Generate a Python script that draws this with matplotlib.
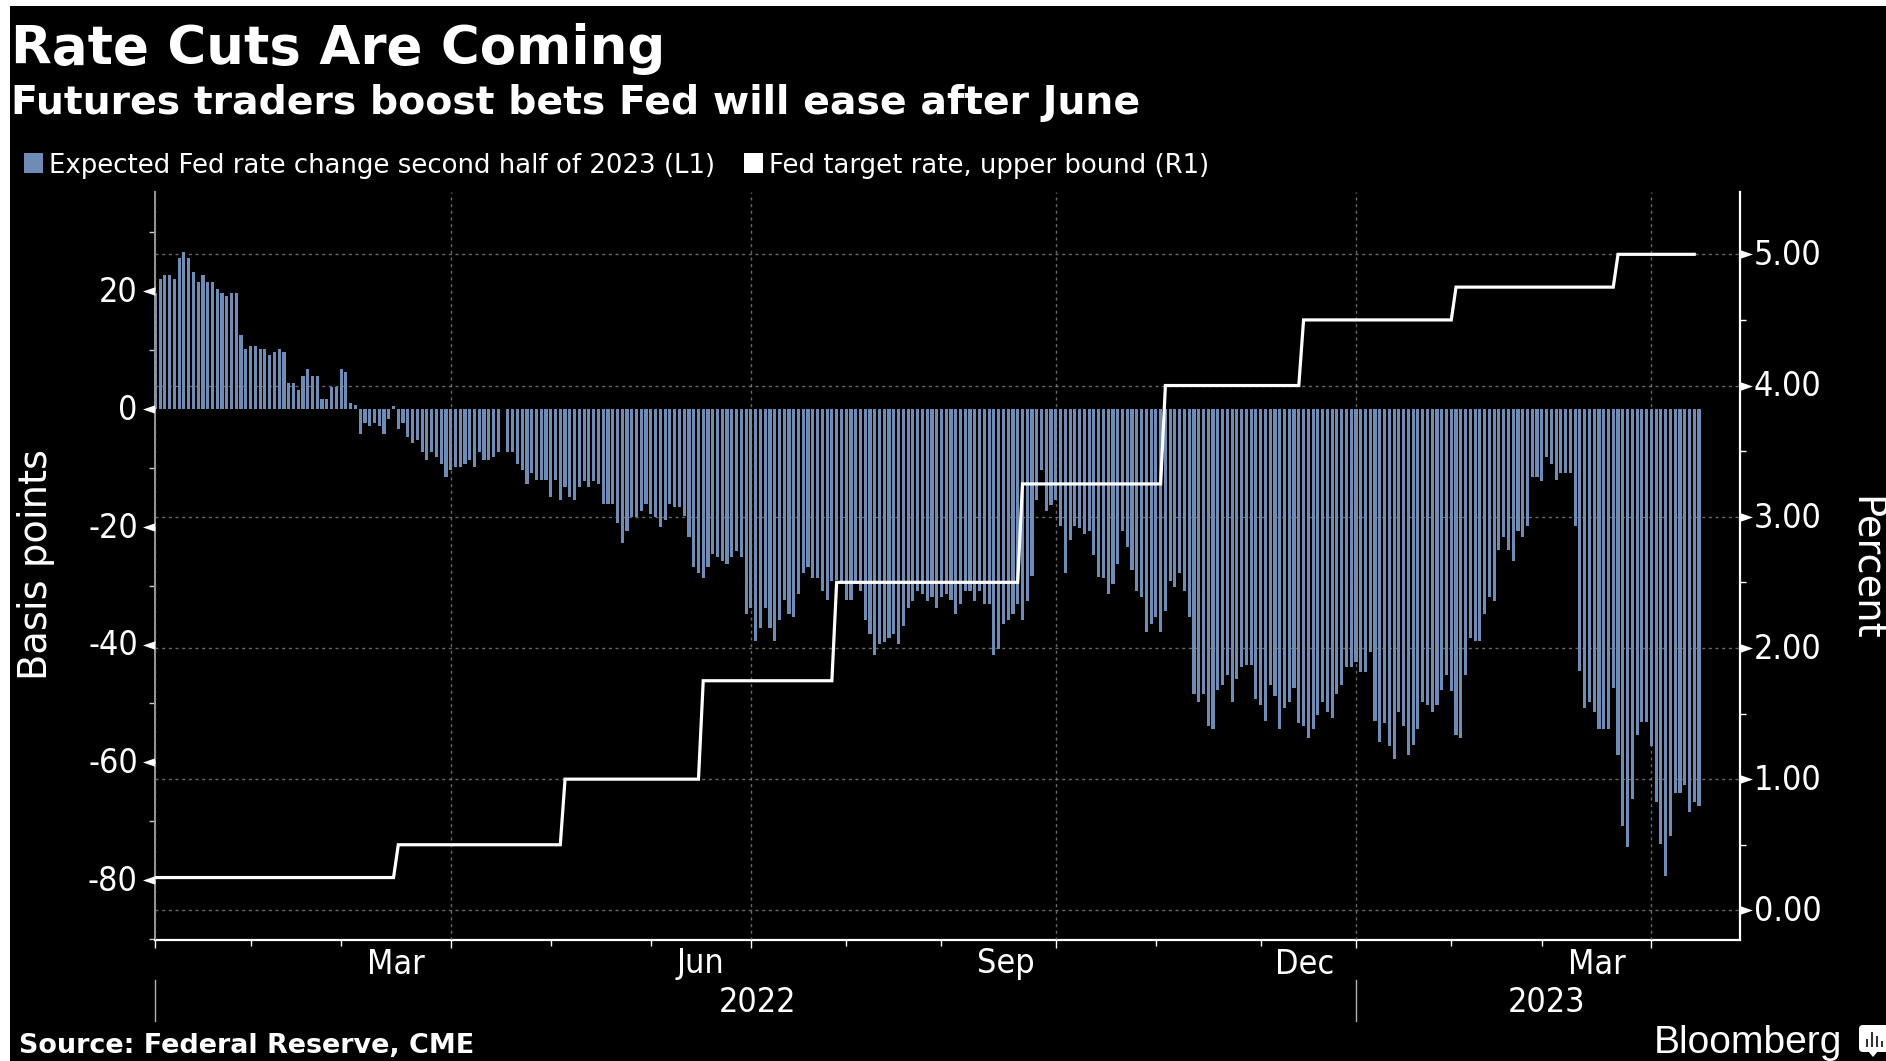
import numpy as np
import matplotlib
matplotlib.use("Agg")
import matplotlib.pyplot as plt
from matplotlib.patches import Rectangle, FancyBboxPatch, Polygon
from matplotlib.transforms import ScaledTranslation

nan = float("nan")
expected_change_bp = [
 19.7,22.1,22.7,22.7,22.1,25.6,26.7,25.6,23.2,21.6,22.7,21.6,21.6,20.3,19.7,19.2,19.7,19.7,12.6,10.1,
 10.7,10.7,10.1,10.1,9.1,9.6,10.1,9.6,4.3,4.3,3.2,5.6,6.7,5.6,5.6,1.6,1.6,3.7,3.7,6.7,
 6.2,1.0,0.6,-4.2,-2.4,-2.9,-2.4,-2.9,-4.2,-1.8,0.5,-3.4,-2.4,-4.8,-5.8,-5.3,-7.4,-8.7,-7.4,-8.2,
 -9.3,-11.5,-10.4,-9.9,-9.9,-9.3,-8.7,-9.9,-7.4,-8.7,-8.7,-8.2,-7.4,nan,-7.4,-7.4,-9.3,-10.4,-12.8,-10.9,
 -12.0,-12.0,-12.0,-14.9,-12.0,-15.4,-13.3,-14.9,-15.4,-13.3,-12.2,-13.3,-12.2,-12.8,-16.2,-16.2,-16.2,-19.4,-22.8,-20.7,
 -18.4,-18.4,-17.3,-16.2,-17.8,-18.4,-20.0,-18.9,-16.2,-16.7,-16.7,-18.2,-21.8,-26.9,-27.9,-28.7,-26.9,-24.7,-25.2,-25.8,
 -26.3,-25.2,-24.2,-25.2,-34.8,-33.8,-39.4,-37.2,-33.8,-37.2,-39.4,-35.9,-32.5,-34.8,-35.3,-31.4,-27.9,-26.9,-28.7,-28.7,
 -30.9,-32.5,-29.2,-29.0,-29.3,-32.5,-32.5,-29.8,-30.9,-35.9,-38.3,-41.8,-39.9,-39.6,-38.9,-38.3,-39.9,-36.8,-33.8,-32.7,
 -30.9,-31.4,-32.7,-31.9,-33.8,-31.9,-31.4,-32.4,-34.8,-33.2,-30.9,-30.9,-32.7,-30.9,-33.2,-33.2,-41.8,-40.7,-36.5,-35.9,
 -34.8,-33.2,-35.9,-32.7,-28.4,-15.4,-10.4,-17.3,-16.3,-15.4,-19.9,-27.9,-22.3,-19.9,-20.2,-21.2,-20.7,-24.8,-28.5,-28.7,
 -31.4,-29.8,-26.3,-20.7,-23.5,-27.4,-30.9,-31.9,-37.8,-36.5,-35.4,-37.8,-34.3,-29.2,-30.3,-27.9,-30.9,-35.4,-48.4,-49.8,
 -48.4,-53.8,-54.3,-47.8,-46.8,-45.2,-49.8,-45.8,-43.9,-43.4,-43.4,-49.3,-50.3,-53.0,-46.8,-48.7,-54.3,-50.8,-49.8,-47.4,
 -53.3,-53.8,-55.9,-54.3,-51.9,-49.8,-51.4,-52.5,-48.4,-46.8,-43.9,-43.9,-42.9,-44.7,-44.7,-41.3,-53.0,-56.5,-53.3,-57.2,
 -59.4,-51.4,-53.8,-58.8,-57.0,-54.3,-49.8,-50.3,-51.4,-50.3,-47.8,-45.2,-47.9,-55.4,-55.9,-45.2,-38.9,-39.4,-39.4,-34.8,
 -31.9,-32.7,-24.0,-21.8,-24.0,-25.8,-20.7,-21.8,-19.9,-11.5,-11.5,-12.2,-8.2,-9.3,-12.0,-10.9,-10.9,-10.9,-19.9,-44.5,
 -50.8,-49.8,-51.4,-54.3,-54.3,-54.3,-47.4,-58.8,-70.8,-74.3,-66.3,-55.4,-53.2,-53.2,-57.2,-66.8,-73.8,-79.3,-72.5,-65.2,
 -65.2,-63.9,-68.4,-66.8,-67.4]
fed_levels = [0.25, 0.50, 1.00, 1.75, 2.50, 3.25, 4.00, 4.50, 4.75, 5.00]
fed_change_slots = [51, 86, 115, 143, 182, 212, 241, 273, 307]
fed_last_slot = 323
quarter_slots = [0, 62, 125, 189, 252, 314]
month_slots = [20, 39, 83, 104, 145, 165, 210, 232, 272, 291]
quarter_labels = ["Mar", "Jun", "Sep", "Dec", "Mar"]
quarter_label_slots = [50.5, 114.5, 178.5, 241.2, 302.5]
year_labels = ["2022", "2023"]
year_label_slots = [126.3, 292]
year_sep_slots = [0, 252]
left_major = [20, 0, -20, -40, -60, -80]
left_minor = [30, 10, -10, -30, -50, -70, -90]
right_major = [0, 1, 2, 3, 4, 5]
right_minor = [0.5, 1.5, 2.5, 3.5, 4.5]

W, H = 1886, 1061
BLUE = "#6e8cb6"
GRID = "#8a8a8a"
plt.rcParams["font.family"] = "DejaVu Sans"

fig = plt.figure(figsize=(W / 100, H / 100), dpi=100, facecolor="white")
fig.add_artist(Rectangle((10 / W, 0), 1, 1 - 6 / H, transform=fig.transFigure,
                         facecolor="black", edgecolor="none", zorder=-10))

def fx(p): return p / W
def fy(p): return 1 - p / H
def pt(px): return px * 0.72

L, R, T, B = 154.5, 1740, 192, 940
ax = fig.add_axes([fx(L), fy(B), (R - L) / W, (B - T) / H])
ax.set_facecolor("black")
ax.patch.set_alpha(0)
slots = np.arange(len(expected_change_bp))
ax.bar(slots, expected_change_bp, width=0.66, color=BLUE, linewidth=0, zorder=2)
ax.set_xlim(-0.17, 332.6)
ax.set_ylim(-90.15, 36.8)

ax2 = ax.twinx()
ax2.set_ylim(-0.226, 5.475)
ax2.patch.set_alpha(0)

# step line of the target rate
xs, ys = [0], [fed_levels[0]]
for s, a, b in zip(fed_change_slots, fed_levels[:-1], fed_levels[1:]):
    xs += [s - 1, s]
    ys += [a, b]
xs.append(fed_last_slot)
ys.append(fed_levels[-1])
ax2.plot(xs, ys, color="white", lw=2.3, zorder=5, solid_joinstyle="miter")

dash = (0, (2.2, 2.6))
for y in right_major:
    ax2.axhline(y, color=GRID, lw=1.0, ls=dash, alpha=0.75, zorder=3)
for x in quarter_slots:
    ax2.axvline(x, color=GRID, lw=1.0, ls=dash, alpha=0.75, zorder=3)

for a in (ax, ax2):
    a.spines["top"].set_visible(False)
ax2.spines["left"].set_visible(False)
ax2.spines["bottom"].set_visible(False)
ax.spines["right"].set_visible(False)
ax.spines["left"].set_color("#9a9a9a")
ax.spines["left"].set_linewidth(1.4)
ax.spines["bottom"].set_color("white")
ax.spines["bottom"].set_linewidth(1.6)
ax2.spines["right"].set_color("white")
ax2.spines["right"].set_linewidth(1.6)

TICK = dict(color="white", family="DejaVu Sans", stretch="condensed", fontsize=pt(34))
ax.set_yticks(left_major)
ax.set_yticklabels([str(v) for v in left_major], **TICK)
ax.set_yticks(left_minor, minor=True)
ax.tick_params(axis="y", which="major", length=0, pad=12)
ax.tick_params(axis="y", which="minor", length=4, width=1, color="#cccccc")
ax2.set_yticks(right_major)
ax2.set_yticklabels([f"{v:.2f}" for v in right_major], **TICK)
ax2.set_yticks(right_minor, minor=True)
ax2.tick_params(axis="y", which="major", length=0, pad=10)
ax2.tick_params(axis="y", which="minor", length=4.5, width=1, color="white")
up = ScaledTranslation(0, 1.5 / 72, fig.dpi_scale_trans)
for lab in list(ax.get_yticklabels()) + list(ax2.get_yticklabels()):
    lab.set_transform(lab.get_transform() + up)

left_tri = [(-1.6, 0), (0, 0.55), (0, -0.55)]
right_tri = [(1.6, 0), (0, 0.55), (0, -0.55)]
ax.plot([0] * len(left_major), left_major, ls="none", marker=left_tri, ms=18, mfc="white",
        mec="none", transform=ax.get_yaxis_transform(), clip_on=False, zorder=6)
ax2.plot([1] * len(right_major), right_major, ls="none", marker=right_tri, ms=18, mfc="white",
         mec="none", transform=ax2.get_yaxis_transform(), clip_on=False, zorder=6)

ax.set_xticks(quarter_slots)
ax.set_xticks(month_slots, minor=True)
ax.set_xticklabels([])
ax.tick_params(axis="x", which="major", length=5.5, width=1, color="white")
ax.tick_params(axis="x", which="minor", length=4.5, width=1, color="white")

xt = ax.get_xaxis_transform()
def yfrac(p): return (B - p) / (B - T)
for s, lab in zip(quarter_label_slots, quarter_labels):
    ax.text(s, yfrac(964), lab, transform=xt, ha="center", va="center", **TICK)
for s, lab in zip(year_label_slots, year_labels):
    ax.text(s, yfrac(1003), lab, transform=xt, ha="center", va="center", **TICK)
for s in year_sep_slots:
    ax.plot([s, s], [yfrac(980), yfrac(1021)], color="#b0b0b0", lw=1, transform=xt, clip_on=False)

fig.text(fx(36), fy(565), "Basis points", rotation=90, ha="center", va="center",
         color="white", family="DejaVu Sans", fontsize=pt(38.5))
fig.text(fx(1866), fy(568), "Percent", rotation=270, ha="center", va="center",
         color="white", family="DejaVu Sans", fontsize=pt(38.5))

fig.text(fx(11), fy(64), "Rate Cuts Are Coming", ha="left", va="baseline", color="white",
         family="DejaVu Sans", weight="bold", fontsize=pt(53))
fig.text(fx(11), fy(114), "Futures traders boost bets Fed will ease after June", ha="left",
         va="baseline", color="white", family="DejaVu Sans", weight="bold", fontsize=pt(39.4))

LEG = dict(color="white", family="DejaVu Sans", fontsize=pt(26))
fig.add_artist(Rectangle((fx(24), fy(173)), 19 / W, 20 / H, transform=fig.transFigure,
                         facecolor=BLUE, edgecolor="none"))
fig.text(fx(49), fy(173), "Expected Fed rate change second half of 2023 (L1)", ha="left",
         va="baseline", **LEG)
fig.add_artist(Rectangle((fx(744), fy(173)), 19 / W, 20 / H, transform=fig.transFigure,
                         facecolor="white", edgecolor="none"))
fig.text(fx(769), fy(173), "Fed target rate, upper bound (R1)", ha="left", va="baseline", **LEG)

fig.text(fx(19), fy(1053), "Source: Federal Reserve, CME", ha="left", va="baseline",
         color="white", family="DejaVu Sans", weight="bold", fontsize=pt(27))
fig.text(fx(1654), fy(1053), "Bloomberg", ha="left", va="baseline", color="white",
         family="Liberation Sans", fontsize=pt(39))

# logo mark
fig.add_artist(FancyBboxPatch((1859, H - 1052), 32, 27, boxstyle="round,pad=0,rounding_size=4",
                              transform=None, facecolor="white", edgecolor="none"))
fig.add_artist(Polygon([(fx(1868), fy(1051)), (fx(1878), fy(1051)), (fx(1873), fy(1057))],
                       transform=fig.transFigure, facecolor="white", edgecolor="none"))
for px_x, h in zip((1866, 1871, 1876, 1881), (8, 15, 11, 6)):
    fig.add_artist(Rectangle((fx(px_x), fy(1047)), 2.4 / W, h / H, transform=fig.transFigure,
                             facecolor="#333333", edgecolor="none"))

fig.savefig("out.png", dpi=100, facecolor=fig.get_facecolor())
